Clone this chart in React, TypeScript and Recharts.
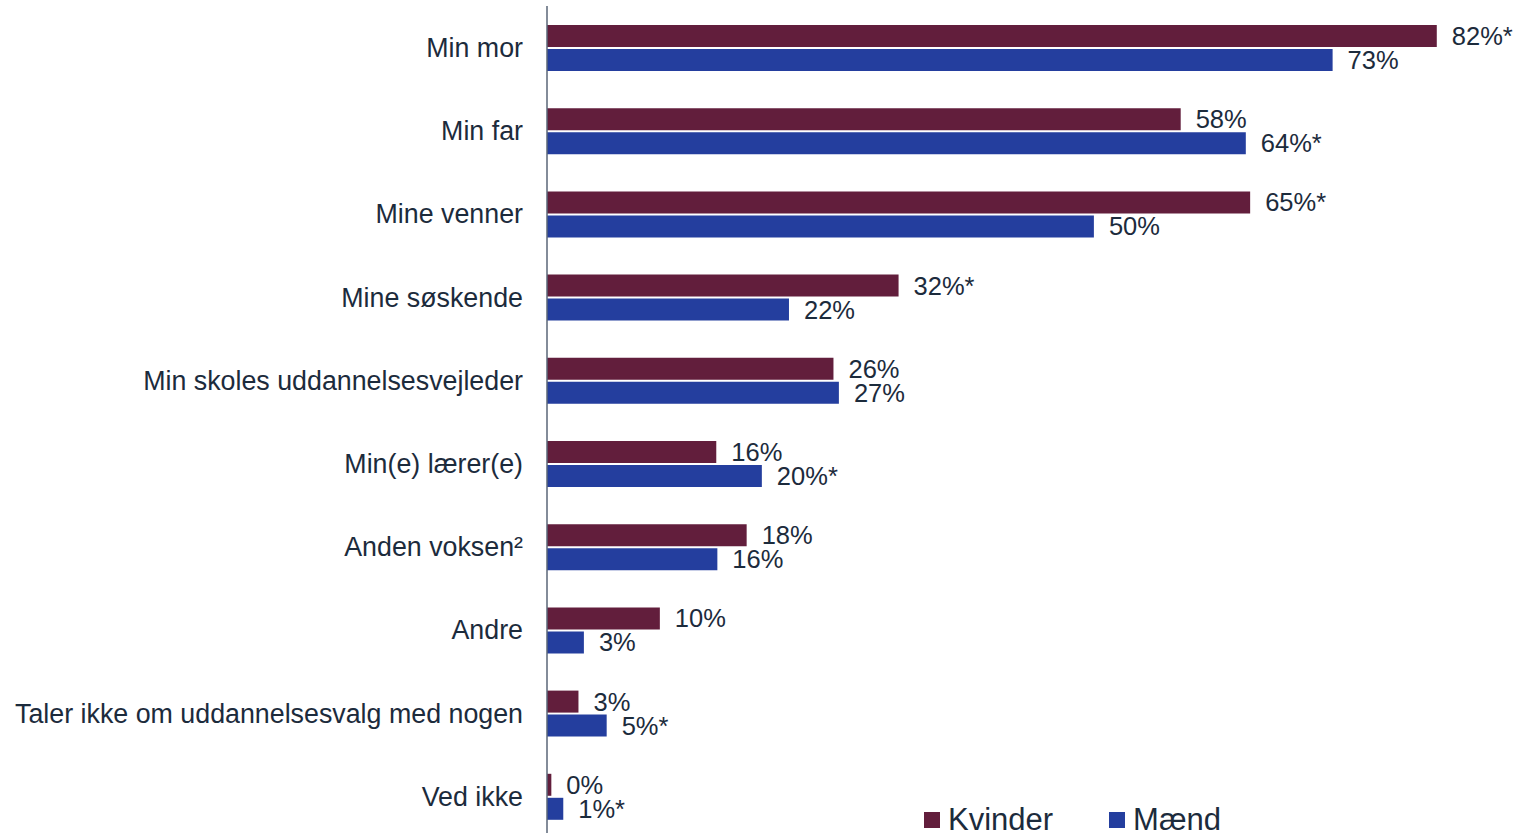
import React from "react";
import { BarChart, Bar, XAxis, YAxis, LabelList } from "recharts";

const categories = [
  "Min mor",
  "Min far",
  "Mine venner",
  "Mine søskende",
  "Min skoles uddannelsesvejleder",
  "Min(e) lærer(e)",
  "Anden voksen²",
  "Andre",
  "Taler ikke om uddannelsesvalg med nogen",
  "Ved ikke",
];
const kvinder = [82.0, 58.4, 64.8, 32.4, 26.4, 15.6, 18.4, 10.4, 2.9, 0.4];
const maend = [72.4, 64.4, 50.4, 22.3, 26.9, 19.8, 15.7, 3.4, 5.5, 1.5];
const kvinderLabels = ["82%*", "58%", "65%*", "32%*", "26%", "16%", "18%", "10%", "3%", "0%"];
const maendLabels = ["73%", "64%*", "50%", "22%", "27%", "20%*", "16%", "3%", "5%*", "1%*"];
const seriesNames = ["Kvinder", "Mænd"];

const KVINDER_COLOR = "#621E3C";
const MAEND_COLOR = "#243E9E";
const TEXT_COLOR = "#1C2B3C";
const FONT = "'Liberation Sans', Arial, sans-serif";

const data = categories.map((c, i) => ({
  name: c,
  kvinder: kvinder[i],
  maend: maend[i],
  kLabel: kvinderLabels[i],
  mLabel: maendLabels[i],
}));

const CategoryTick = (props: any) => {
  const { x, y, payload } = props;
  return (
    <text
      x={x}
      y={y}
      dy="0.35em"
      textAnchor="end"
      fontSize={26.8}
      fontFamily={FONT}
      fill={TEXT_COLOR}
    >
      {payload.value}
    </text>
  );
};

const LegendOverlay = () => {
  const items = [
    { label: seriesNames[0], color: KVINDER_COLOR, gap: 56 },
    { label: seriesNames[1], color: MAEND_COLOR, gap: 0 },
  ];
  return (
    <div
      style={{
        position: "absolute",
        left: 924,
        top: 803,
        display: "flex",
        alignItems: "center",
        fontFamily: FONT,
      }}
    >
      {items.map((it) => (
        <div key={it.label} style={{ display: "flex", alignItems: "center", marginRight: it.gap }}>
          <div style={{ width: 16, height: 16, background: it.color, marginRight: 8 }} />
          <span style={{ fontSize: 31, color: TEXT_COLOR, lineHeight: "34px" }}>{it.label}</span>
        </div>
      ))}
    </div>
  );
};

export default function App() {
  return (
    <div style={{ position: "absolute", left: 0, top: 0, width: 1516, height: 840, background: "#fff" }}>
      <BarChart
        width={1516}
        height={840}
        data={data}
        layout="vertical"
        margin={{ top: 6, right: 0, bottom: 2, left: 0 }}
        barSize={22}
        barGap={2}
      >
        <XAxis type="number" hide domain={[0, 89.3]} />
        <YAxis
          type="category"
          dataKey="name"
          width={547}
          tickLine={false}
          tickSize={0}
          tickMargin={24}
          axisLine={{ stroke: "#5A6677", strokeWidth: 1.5 }}
          tick={<CategoryTick />}
          interval={0}
        />
        <Bar dataKey="kvinder" name={seriesNames[0]} fill={KVINDER_COLOR} isAnimationActive={false}>
          <LabelList
            dataKey="kLabel"
            position="right"
            offset={15}
            fill={TEXT_COLOR}
            fontSize={25.5}
            fontFamily={FONT}
          />
        </Bar>
        <Bar dataKey="maend" name={seriesNames[1]} fill={MAEND_COLOR} isAnimationActive={false}>
          <LabelList
            dataKey="mLabel"
            position="right"
            offset={15}
            fill={TEXT_COLOR}
            fontSize={25.5}
            fontFamily={FONT}
          />
        </Bar>
      </BarChart>
      <LegendOverlay />
    </div>
  );
}
